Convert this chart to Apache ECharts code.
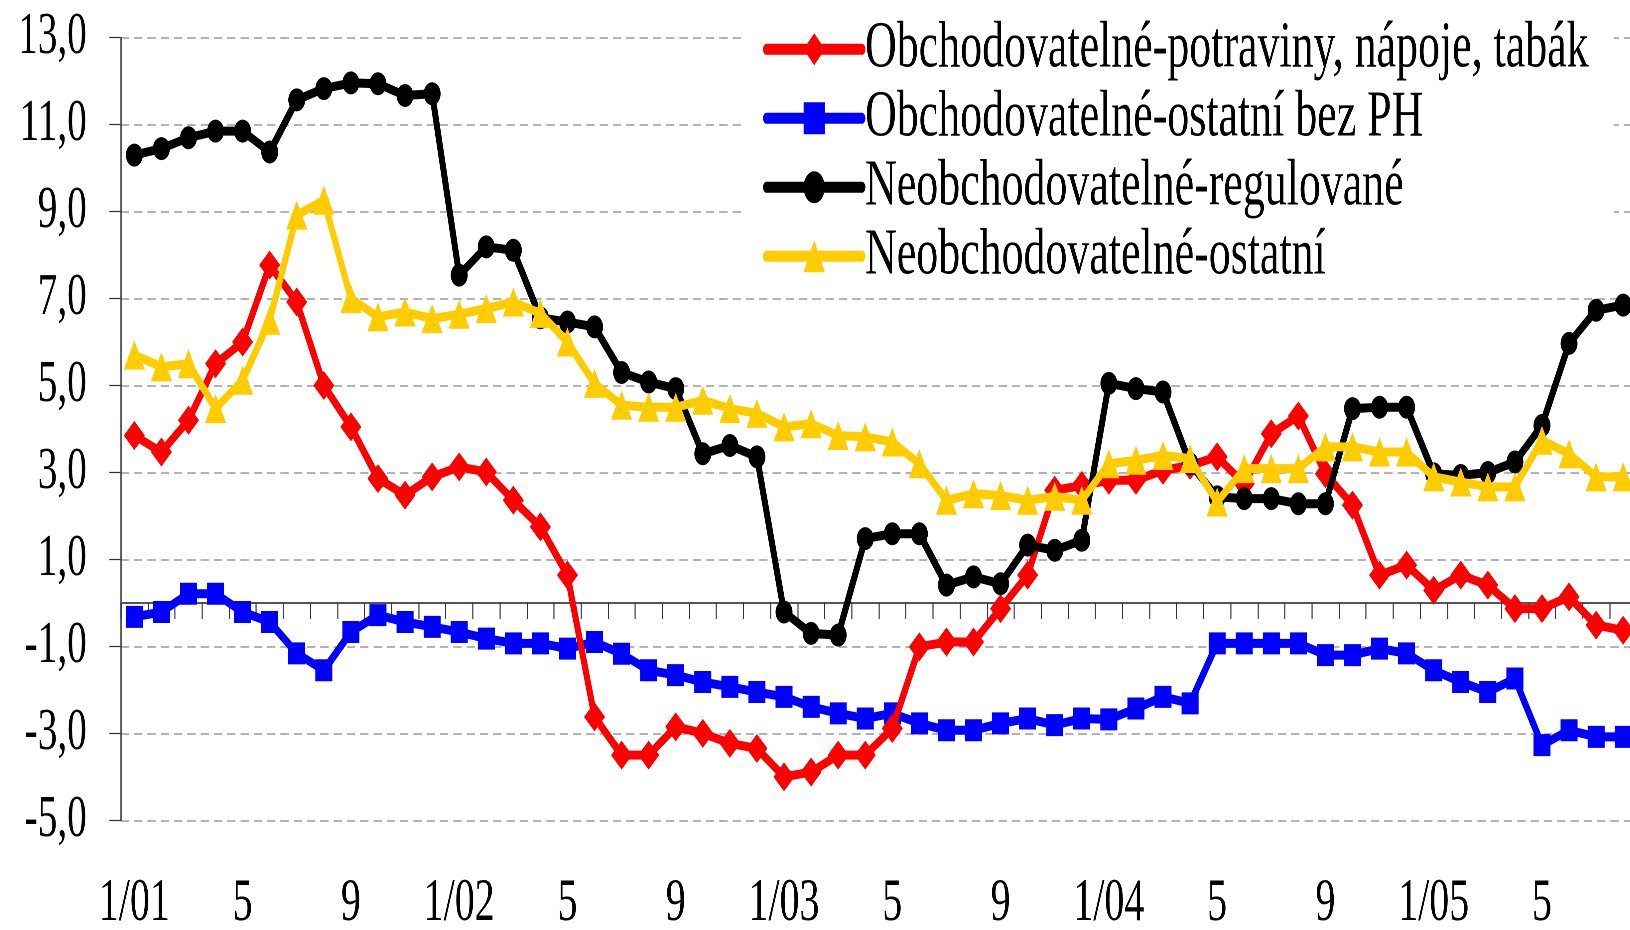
<!DOCTYPE html>
<html>
<head>
<meta charset="utf-8">
<script src="https://cdn.jsdelivr.net/npm/echarts@6/dist/echarts.min.js"></script>
<style>
html, body { margin: 0; padding: 0; background: #fff; overflow: hidden; width: 1630px; height: 930px; }
#chart { height: 930px; transform-origin: 0 0; }
</style>
</head>
<body>
<div id="chart"></div>
<script>
// ---- data ----
const categories = [
  '1/01','2','3','4','5','6','7','8','9','10','11','12',
  '1/02','2','3','4','5','6','7','8','9','10','11','12',
  '1/03','2','3','4','5','6','7','8','9','10','11','12',
  '1/04','2','3','4','5','6','7','8','9','10','11','12',
  '1/05','2','3','4','5','6','7','8'
];
const seriesNames = [
  'Obchodovatelné-potraviny, nápoje, tabák',
  'Obchodovatelné-ostatní bez PH',
  'Neobchodovatelné-regulované',
  'Neobchodovatelné-ostatní'
];
const potraviny = [3.85, 3.47, 4.2, 5.5, 6.0, 7.77, 6.92, 5.0, 4.05, 2.86,
  2.48, 2.9, 3.13, 3.01, 2.36, 1.75, 0.64, -2.62, -3.5, -3.5,
  -2.85, -3.0, -3.23, -3.35, -4.0, -3.89, -3.5, -3.5, -2.89, -1.01,
  -0.9, -0.9, -0.13, 0.64, 2.59, 2.7, 2.82, 2.82, 3.05, 3.16,
  3.36, 2.74, 3.89, 4.3, 2.97, 2.25, 0.64, 0.87, 0.29, 0.64,
  0.41, -0.13, -0.13, 0.14, -0.51, -0.63];
const ostatniBezPH = [-0.32, -0.21, 0.21, 0.21, -0.21, -0.44, -1.16, -1.55, -0.67, -0.28,
  -0.44, -0.55, -0.67, -0.82, -0.93, -0.93, -1.05, -0.9, -1.17, -1.55,
  -1.66, -1.82, -1.93, -2.05, -2.16, -2.39, -2.54, -2.66, -2.54, -2.77,
  -2.93, -2.93, -2.77, -2.66, -2.81, -2.66, -2.68, -2.43, -2.16, -2.31,
  -0.93, -0.93, -0.93, -0.93, -1.2, -1.2, -1.05, -1.16, -1.55, -1.82,
  -2.05, -1.74, -3.27, -2.93, -3.08, -3.08];
const regulovane = [10.3, 10.45, 10.7, 10.85, 10.85, 10.37, 11.57, 11.83, 11.96, 11.94,
  11.67, 11.71, 7.54, 8.19, 8.11, 6.56, 6.46, 6.35, 5.3, 5.08,
  4.93, 3.43, 3.62, 3.36, -0.21, -0.7, -0.74, 1.48, 1.59, 1.59,
  0.41, 0.6, 0.44, 1.33, 1.21, 1.44, 5.05, 4.93, 4.85, 3.2,
  2.44, 2.4, 2.4, 2.28, 2.28, 4.47, 4.5, 4.5, 2.97, 2.93,
  3.0, 3.24, 4.08, 5.97, 6.73, 6.85];
const neobchOstatni = [5.7, 5.43, 5.5, 4.47, 5.12, 6.5, 8.92, 9.26, 7.0, 6.58,
  6.69, 6.54, 6.64, 6.77, 6.92, 6.66, 6.0, 5.05, 4.55, 4.5,
  4.5, 4.66, 4.47, 4.36, 4.05, 4.12, 3.85, 3.82, 3.7, 3.2,
  2.36, 2.51, 2.47, 2.36, 2.45, 2.36, 3.2, 3.28, 3.39, 3.32,
  2.32, 3.09, 3.09, 3.09, 3.59, 3.59, 3.47, 3.47, 2.9, 2.78,
  2.67, 2.67, 3.74, 3.43, 2.9, 2.9];
const yTicks = [-5, -3, -1, 1, 3, 5, 7, 9, 11, 13];

// ---- layout (the original is a horizontally condensed rendering) ----
const SX = 0.665;
const W = 1630 / SX;
const px = v => v / SX;
const FONT = 'Liberation Serif';

const el = document.getElementById('chart');
el.style.width = W + 'px';
el.style.transform = 'scaleX(' + SX + ')';

const chart = echarts.init(el, null, { renderer: 'canvas', devicePixelRatio: 2 });

function lineSeries(name, data, color, symbol, size, z) {
  return {
    name: name, type: 'line', data: data, xAxisIndex: 0, yAxisIndex: 0,
    symbol: symbol, symbolSize: size, showSymbol: true, showAllSymbol: true, z: z,
    lineStyle: { color: color, width: 9, join: 'round', cap: 'round' },
    itemStyle: { color: color },
    emphasis: { disabled: true }
  };
}

const option = {
  animation: false,
  backgroundColor: '#ffffff',
  textStyle: { fontFamily: FONT },
  grid: {
    left: px(120.8), top: 37.7, width: px(56 * 27.07), height: 782.6,
    containLabel: false, outerBoundsMode: 'none'
  },
  legend: {
    data: seriesNames,
    orient: 'vertical',
    left: px(744), top: 0,
    padding: [16.3, px(25), 8, px(19)],
    backgroundColor: '#ffffff',
    itemWidth: 143, itemHeight: 40, itemGap: 3,
    selectedMode: false,
    lineStyle: { width: 11, cap: 'round' },
    textStyle: { fontFamily: FONT, fontSize: 66, lineHeight: 64, color: '#000' }
  },
  xAxis: [
    {
      type: 'category', data: categories, boundaryGap: true, position: 'bottom',
      axisLine: { show: true, onZero: true, lineStyle: { color: '#555', width: 2 } },
      axisTick: { show: true, interval: 0, length: 16, lineStyle: { color: '#333', width: 1.6 } },
      axisLabel: { show: false },
      splitLine: { show: false }
    },
    {
      type: 'category', data: categories, boundaryGap: true, position: 'bottom',
      axisLine: { show: false, onZero: false },
      axisTick: { show: false },
      axisLabel: { show: true, interval: 3, margin: 54, fontSize: 60, color: '#000', fontFamily: FONT },
      splitLine: { show: false }
    }
  ],
  yAxis: {
    type: 'value', min: -5, max: 13,
    axisLine: { show: true, onZero: false, lineStyle: { color: '#555', width: 2 } },
    axisTick: { show: true, customValues: yTicks, length: px(11.4), lineStyle: { color: '#333', width: 1.3 } },
    axisLabel: {
      customValues: yTicks, margin: px(34), fontSize: 59, color: '#000', fontFamily: FONT,
      padding: [0, 0, 8, 0],
      formatter: v => v.toFixed(1).replace('.', ',')
    },
    splitLine: { show: true, lineStyle: { color: '#9a9a9a', width: 1.5, type: [px(8.3), px(5)] } }
  },
  series: [
    lineSeries(seriesNames[0], potraviny, '#FF0000', 'diamond', [px(21), 29], 3),
    lineSeries(seriesNames[1], ostatniBezPH, '#0000FF', 'rect', [px(17), 22], 2),
    lineSeries(seriesNames[2], regulovane, '#000000', 'circle', [px(17), 23], 4),
    lineSeries(seriesNames[3], neobchOstatni, '#FFCC00', 'triangle', [px(21), 29], 5)
  ]
};

chart.setOption(option);
</script>
</body>
</html>
